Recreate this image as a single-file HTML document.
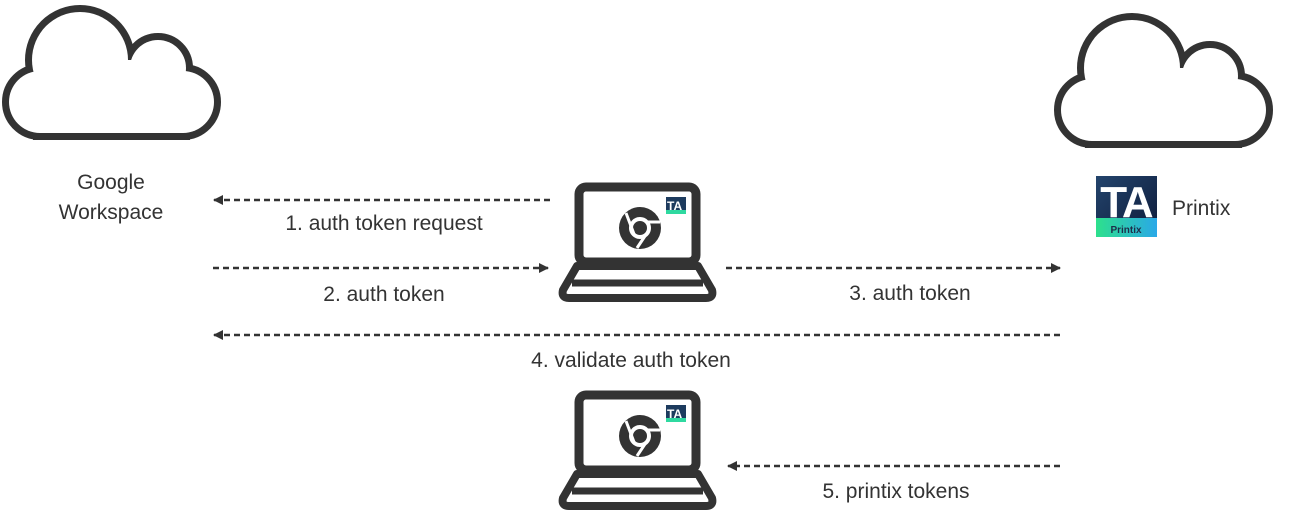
<!DOCTYPE html>
<html><head><meta charset="utf-8"><style>
body{margin:0;background:#fff;width:1289px;height:520px;overflow:hidden}
text{font-family:"Liberation Sans",sans-serif;fill:#333;font-size:21px}
</style></head><body>
<svg width="1289" height="520" viewBox="0 0 1289 520" xmlns="http://www.w3.org/2000/svg">
<defs>
<g id="cs">
<circle cx="80" cy="60" r="48"/><circle cx="158" cy="68" r="28"/><circle cx="183" cy="102" r="31"/><circle cx="40" cy="102" r="31"/><rect x="40" y="70" width="143" height="63"/><rect x="60" y="60" width="100" height="40"/>
</g>
<g id="cloud">
<use href="#cs" fill="#333" stroke="#333" stroke-width="14"/>
<use href="#cs" fill="#fff"/>
</g>
<marker id="ah" viewBox="0 0 10 10" refX="9" refY="5" markerWidth="4" markerHeight="4" orient="auto-start-reverse"><path d="M0,0L10,5L0,10z" fill="#333"/></marker>
<g id="lap">
<rect x="579" y="187" width="117" height="75" rx="7" fill="none" stroke="#333" stroke-width="9"/>
<path d="M577,266 L698,266 L712,290 Q714,298 706,298 L569,298 Q561,298 563,290 Z" fill="none" stroke="#333" stroke-width="8" stroke-linejoin="round"/>
<line x1="572" y1="283" x2="703" y2="283" stroke="#333" stroke-width="7"/>
<circle cx="640" cy="228" r="21" fill="#333"/>
<circle cx="640" cy="228" r="9" fill="none" stroke="#fff" stroke-width="4"/>
<path d="M626,213 L634,234 M648,222 L660,222 M645,236 L637,248" stroke="#fff" stroke-width="3"/>
<rect x="666" y="197" width="20" height="17" fill="#1d3b5e"/>
<rect x="666" y="210" width="20" height="4" fill="#2fd9a0"/>
<text x="667" y="210" style="font-size:12px;font-weight:bold;fill:#fff">TA</text>
</g>
<linearGradient id="tg" x1="0" y1="0" x2="1" y2="1"><stop offset="0" stop-color="#23446c"/><stop offset="1" stop-color="#0e1b3a"/></linearGradient>
<linearGradient id="bg" x1="0" x2="1"><stop offset="0" stop-color="#2de08c"/><stop offset="1" stop-color="#2aa8e8"/></linearGradient>
</defs>
<use href="#cloud"/>
<use href="#cloud" transform="translate(1052,8)"/>
<text x="111" y="189" text-anchor="middle">Google</text>
<text x="111" y="219" text-anchor="middle">Workspace</text>
<rect x="1096" y="176" width="61" height="61" fill="url(#tg)"/>
<rect x="1096" y="218" width="61" height="19" fill="url(#bg)"/>
<text x="1126" y="217" text-anchor="middle" style="font-size:44px;font-weight:bold;fill:#fff;letter-spacing:-2px">TA</text>
<text x="1126" y="233" text-anchor="middle" style="font-size:10px;font-weight:bold;fill:#1d2e4a">Printix</text>
<text x="1172" y="215">Printix</text>
<use href="#lap"/>
<use href="#lap" transform="translate(0,208)"/>
<g stroke="#333" stroke-width="2.5" stroke-dasharray="6,4" fill="none">
<line x1="550" y1="200" x2="214" y2="200" marker-end="url(#ah)"/>
<line x1="213" y1="268" x2="548" y2="268" marker-end="url(#ah)"/>
<line x1="726" y1="268" x2="1060" y2="268" marker-end="url(#ah)"/>
<line x1="1060" y1="335" x2="214" y2="335" marker-end="url(#ah)"/>
<line x1="1060" y1="466" x2="728" y2="466" marker-end="url(#ah)"/>
</g>
<text x="384" y="230" text-anchor="middle">1. auth token request</text>
<text x="384" y="301" text-anchor="middle">2. auth token</text>
<text x="910" y="300" text-anchor="middle">3. auth token</text>
<text x="631" y="367" text-anchor="middle">4. validate auth token</text>
<text x="896" y="498" text-anchor="middle">5. printix tokens</text>
</svg>
</body></html>
